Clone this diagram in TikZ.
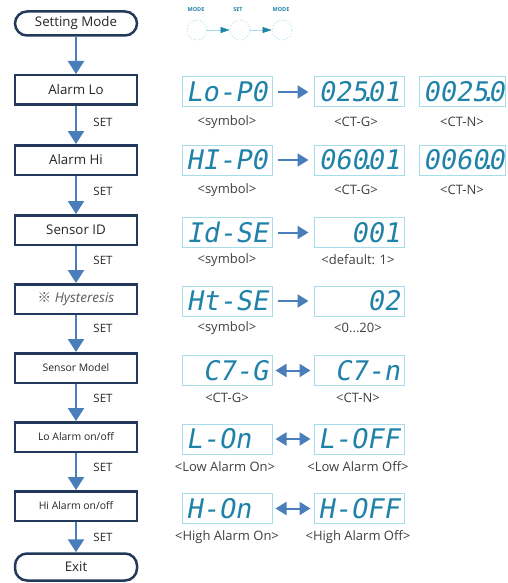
\documentclass[tikz,border=0pt]{standalone}
\usepackage{fontspec}
\setmainfont{Open Sans}
\newfontfamily\segfont[FakeSlant=0.18]{DejaVu Sans Mono}
\newfontfamily\cjkfont{Noto Sans CJK KR}
\usetikzlibrary{arrows.meta}
\definecolor{navy}{HTML}{22395B}
\definecolor{arrowblue}{HTML}{4A7EBB}
\definecolor{lcdedge}{HTML}{A6DCEB}
\definecolor{segcol}{HTML}{1F82A8}
\definecolor{labgray}{HTML}{404040}
\definecolor{hysgray}{HTML}{595959}
\newcommand{\segdot}{\kern-0.3em.\kern-0.3em}
\tikzset{
  flowbox/.style={draw=navy, line width=2.5pt, fill=white, minimum width=122pt, minimum height=29.5pt, inner sep=0pt, font=\fontsize{13.3}{15}\selectfont, text=black!85},
  smallbox/.style={flowbox, font=\fontsize{10.4}{12}\selectfont},
  term/.style={flowbox, rounded corners=12pt, minimum height=24pt},
  flowar/.style={draw=arrowblue, line width=2.5pt, -{Triangle[length=13pt,width=16pt]}},
  setlab/.style={font=\fontsize{11.5}{13}\selectfont, text=black!85, inner sep=0pt},
  lcd/.style={draw=lcdedge, line width=1pt, fill=white, minimum width=90pt, minimum height=30pt, text width=82pt, inner sep=0pt, text=segcol, font=\segfont\fontsize{27}{27}\selectfont},
  lcdar/.style={draw=arrowblue, line width=2pt, shorten >=5pt, shorten <=5pt, -{Triangle[length=11pt,width=13pt]}},
  dblar/.style={draw=arrowblue, line width=2pt, shorten >=3pt, shorten <=3pt, {Triangle[length=11pt,width=13pt]}-{Triangle[length=11pt,width=13pt]}},
  lcdlab/.style={font=\fontsize{13}{14}\selectfont, text=labgray, inner sep=0pt},
  toplab/.style={font=\bfseries\fontsize{5.5}{6}\selectfont, text=segcol, inner sep=0pt},
  circ/.style={circle, draw=lcdedge, dotted, line width=0.9pt, minimum size=20pt, inner sep=0pt},
  topar/.style={draw=lcdedge, line width=0.5pt, -{Triangle[length=9pt,width=6pt,color=segcol]}}
}
\begin{document}
\begin{tikzpicture}[x=1pt,y=-1pt]
\useasboundingbox (0,0) rectangle (507,583);
\begin{scope}
\clip (0,0) rectangle (507,583);
% flowchart
\node[term] (sm) at (76,23.5) {Setting Mode};
\node[flowbox] (alo) at (76,90) {Alarm Lo};
\node[flowbox] (ahi) at (76,160) {Alarm Hi};
\node[flowbox] (sid) at (76,230) {Sensor ID};
\node[flowbox, font=\itshape\fontsize{13.5}{15}\selectfont, text=hysgray] (hys) at (76,299) {{\cjkfont\upshape ※} Hysteresis};
\node[smallbox] (smod) at (76,368) {Sensor Model};
\node[smallbox] (loal) at (76,437) {Lo Alarm on/off};
\node[smallbox] (hial) at (76,506) {Hi Alarm on/off};
\node[term, minimum height=27pt] (ex) at (76,567) {Exit};

\draw[flowar] (sm) -- (alo);
\draw[flowar] (alo) -- (ahi);
\draw[flowar] (ahi) -- (sid);
\draw[flowar] (sid) -- (hys);
\draw[flowar] (hys) -- (smod);
\draw[flowar] (smod) -- (loal);
\draw[flowar] (loal) -- (hial);
\draw[flowar] (hial) -- (ex);

\node[setlab] (set1) at (103,122) {SET};
\node[setlab] (set2) at (103,191) {SET};
\node[setlab] (set3) at (103,260) {SET};
\node[setlab] (set4) at (103,328) {SET};
\node[setlab] (set5) at (103,398) {SET};
\node[setlab] (set6) at (103,467) {SET};
\node[setlab] (set7) at (103,537) {SET};

% top key icons
\node[toplab] (tm1) at (196,10) {MODE};
\node[toplab] (tst) at (238,10) {SET};
\node[toplab] (tm2) at (281,10) {MODE};
\node[circ] (c1) at (197,30) {};
\node[circ] (c2) at (240,30) {};
\node[circ] (c3) at (282,30) {};
\draw[topar] (c1) -- (c2);
\draw[topar] (c2) -- (c3);

% row 1
\node[lcd, align=left] (d1a) at (227,92) {Lo-P0};
\node[lcd, align=right] (d1b) at (359,92) {025\segdot01};
\node[lcd, align=right, minimum width=86pt, text width=78pt] (d1c) at (462,92) {0025\segdot0};
\draw[lcdar] (d1a) -- (d1b);
\node[lcdlab] (l1a) at (227,122) {<symbol>};
\node[lcdlab] (l1b) at (356,122) {<CT-G>};
\node[lcdlab] (l1c) at (462,122) {<CT-N>};
% row 2
\node[lcd, align=left] (d2a) at (227,160) {HI-P0};
\node[lcd, align=right] (d2b) at (359,160) {060\segdot01};
\node[lcd, align=right, minimum width=86pt, text width=78pt] (d2c) at (462,160) {0060\segdot0};
\draw[lcdar] (d2a) -- (d2b);
\node[lcdlab] (l2a) at (227,190) {<symbol>};
\node[lcdlab] (l2b) at (356,190) {<CT-G>};
\node[lcdlab] (l2c) at (462,190) {<CT-N>};
% row 3
\node[lcd, align=right] (d3a) at (227,232.5) {Id-SE};
\node[lcd, align=right] (d3b) at (359,232.5) {001};
\draw[lcdar] (d3a) -- (d3b);
\node[lcdlab] (l3a) at (227,260) {<symbol>};
\node[lcdlab] (l3b) at (358,260) {<default: 1>};
% row 4
\node[lcd, align=right] (d4a) at (227,301) {Ht-SE};
\node[lcd, align=right] (d4b) at (359,301) {02};
\draw[lcdar] (d4a) -- (d4b);
\node[lcdlab] (l4a) at (227,328) {<symbol>};
\node[lcdlab] (l4b) at (358,328) {<0...20>};
% row 5
\node[lcd, align=right] (d5a) at (227,370.5) {C7-G};
\node[lcd, align=right] (d5b) at (359,370.5) {C7-n};
\draw[dblar] (d5a) -- (d5b);
\node[lcdlab] (l5a) at (227,398) {<CT-G>};
\node[lcdlab] (l5b) at (358,398) {<CT-N>};
% row 6
\node[lcd, align=left] (d6a) at (227,439) {L-On};
\node[lcd, align=left] (d6b) at (359,439) {L-OFF};
\draw[dblar] (d6a) -- (d6b);
\node[lcdlab] (l6a) at (225,467) {<Low Alarm On>};
\node[lcdlab] (l6b) at (358,467) {<Low Alarm Off>};
% row 7
\node[lcd, align=left] (d7a) at (227,508.5) {H-On};
\node[lcd, align=left] (d7b) at (359,508.5) {H-OFF};
\draw[dblar] (d7a) -- (d7b);
\node[lcdlab] (l7a) at (227,537) {<High Alarm On>};
\node[lcdlab] (l7b) at (358,537) {<High Alarm Off>};
\end{scope}
\end{tikzpicture}
\end{document}
